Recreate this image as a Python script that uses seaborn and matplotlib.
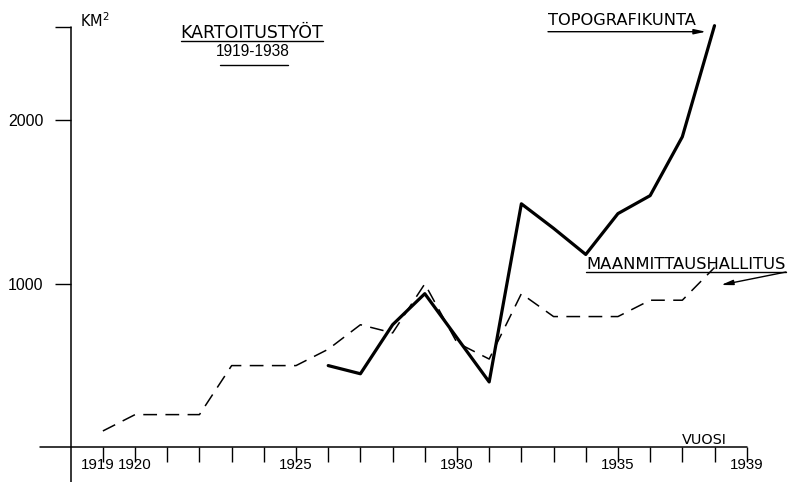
import matplotlib
matplotlib.use("Agg")
import matplotlib.pyplot as plt
from matplotlib.lines import Line2D
from matplotlib.transforms import ScaledTranslation
import seaborn as sns

# kartoitustyöt, km2 per vuosi
mh_years=list(range(1919,1939))
mh_km2=[100,200,200,200,500,500,500,600,750,700,1000,640,540,940,800,800,800,900,900,1100]
topo_years=list(range(1926,1939))
topo_km2=[500,450,750,940,670,400,1490,1340,1180,1430,1540,1900,2580]

x_ticks=list(range(1919,1940))
x_labeled=[1919,1920,1925,1930,1935,1939]
y_ticks=[1000,2000,2570]
y_labels=['1000','2000','']

sns.set_style("white")
plt.rcParams['font.family']=['DejaVu Sans']
plt.rcParams['text.color']='black'
plt.rcParams['xtick.color']='black'
plt.rcParams['ytick.color']='black'
num_font=['Liberation Sans','DejaVu Sans']

W,H=796,482
fig=plt.figure(figsize=(W/100,H/100),dpi=100)
ax=fig.add_axes([70.7/W,34.7/H,676/W,420/H])

def px(x,y):
    return (x/W,1-y/H)

sns.lineplot(x=mh_years,y=mh_km2,color='black',lw=1.1,ax=ax,clip_on=False)
ax.lines[-1].set_dashes([9,5.5])
sns.lineplot(x=topo_years,y=topo_km2,color='black',lw=2.3,ax=ax,clip_on=False)

ax.set_xlim(1918,1939)
ax.set_ylim(0,2570)
for s in ax.spines.values():
    s.set_visible(False)
ax.axvline(1918,ymin=-0.083,ymax=1,color='black',lw=1.1,clip_on=False)
ax.axhline(0,xmin=-0.045,xmax=1,color='black',lw=1.1,clip_on=False)

ax.set_xticks(x_ticks)
ax.set_xticklabels([str(y) if y in x_labeled else '' for y in x_ticks],family=num_font,fontsize=10.8)
ax.set_yticks(y_ticks)
ax.set_yticklabels(y_labels,family=num_font,fontsize=11.5)
ax.tick_params(axis='x',direction='out',length=11,width=1,pad=-3.5,bottom=True,colors='black')
ax.tick_params(axis='y',direction='out',length=11.3,width=1,pad=8.4,left=True,colors='black')
ax.set_xlabel('')
ax.set_ylabel('')
# 1919 sits a little left of its tick, as in the original
lab=ax.get_xticklabels()[0]
lab.set_transform(lab.get_transform()+ScaledTranslation(-4/72,0,fig.dpi_scale_trans))

fig.text(*px(80,27),'KM$^2$',fontsize=10.5,va='baseline',ha='left')
fig.text(*px(252,37.7),'KARTOITUSTYÖT',fontsize=12.5,va='baseline',ha='center')
fig.add_artist(Line2D([181/W,323/W],[1-41/H,1-41/H],color='black',lw=1))
fig.text(*px(253,55.5),'1919-1938',family=num_font,fontsize=11.2,va='baseline',ha='center')
fig.add_artist(Line2D([220/W,288/W],[1-64.5/H,1-64.5/H],color='black',lw=1))

fig.text(*px(548,25),'TOPOGRAFIKUNTA',fontsize=11.7,va='baseline',ha='left')
ax.annotate('',xy=px(706,31.7),xytext=px(548,31.7),xycoords='figure fraction',
            arrowprops=dict(arrowstyle='-|>,head_length=0.7,head_width=0.15',lw=1,color='black',shrinkA=0,shrinkB=0))

fig.text(*px(586,269),'MAANMITTAUSHALLITUS',fontsize=11.8,va='baseline',ha='left')
fig.add_artist(Line2D([586/W,786/W],[1-272/H,1-272/H],color='black',lw=1))
ax.annotate('',xy=px(721,285),xytext=px(786,272),xycoords='figure fraction',
            arrowprops=dict(arrowstyle='-|>,head_length=0.7,head_width=0.15',lw=1,color='black',shrinkA=0,shrinkB=0))

fig.text(*px(704,444),'VUOSI',fontsize=10.4,va='baseline',ha='center')

plt.savefig("out.png",dpi=100)
